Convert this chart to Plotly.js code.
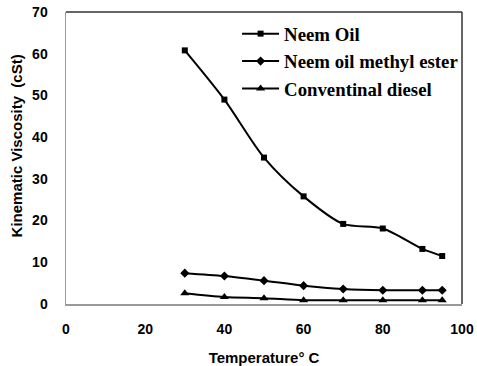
<!DOCTYPE html>
<html>
<head>
<meta charset="utf-8">
<script src="https://cdn.plot.ly/plotly-3.0.1.min.js"></script>
<style>html,body{margin:0;padding:0;background:#fff;}#chart{width:477px;height:366px;}</style>
</head>
<body>
<div id="chart"></div>
<script>
const temperature = [30, 40, 50, 60, 70, 80, 90, 95];
const neemOil = [60.8, 49.0, 35.1, 25.8, 19.2, 18.1, 13.2, 11.5];
const neemOilMethylEster = [7.4, 6.7, 5.6, 4.4, 3.6, 3.3, 3.3, 3.3];
const conventionalDiesel = [2.6, 1.7, 1.4, 0.9, 0.9, 0.9, 0.9, 0.9];
const seriesNames = ["Neem Oil", "Neem oil methyl ester", "Conventinal diesel"];
const xTicks = [0, 20, 40, 60, 80, 100];
const yTicks = [0, 10, 20, 30, 40, 50, 60, 70];
const xTitle = 'Temperature° C';
const yTitle = 'Kinematic Viscosity  (cSt)';

const lineStyle = {color: '#000', width: 2, shape: 'spline', smoothing: 0.8};
const traces = [
  {x: temperature, y: neemOil, name: seriesNames[0], mode: 'lines+markers', line: lineStyle,
   marker: {symbol: 'square', size: 6, color: '#000'}, legendgroup: 'a'},
  {x: temperature, y: neemOilMethylEster, name: seriesNames[1], mode: 'lines+markers', line: lineStyle,
   marker: {symbol: 'diamond', size: 7, color: '#000'}, legendgroup: 'b'},
  {x: temperature, y: conventionalDiesel, name: seriesNames[2], mode: 'lines+markers', line: lineStyle,
   marker: {symbol: 'triangle-up', size: 8, color: '#000'}, legendgroup: 'c'}
];

const tickFont = {family: 'Liberation Sans, Arial, sans-serif', size: 14, color: '#000', weight: 'bold'};
const titleFont = {family: 'Liberation Sans, Arial, sans-serif', size: 15, color: '#000', weight: 'bold'};
const layout = {
  width: 477, height: 366,
  margin: {l: 66, r: 15, t: 12, b: 62},
  paper_bgcolor: '#fff', plot_bgcolor: '#fff',
  showlegend: true,
  legend: {
    x: 0.432, y: 0.99, xanchor: 'left', yanchor: 'top',
    font: {family: 'Liberation Serif, Times New Roman, serif', size: 18.8, color: '#000', weight: 'bold'},
    bgcolor: 'rgba(0,0,0,0)', traceorder: 'grouped', tracegroupgap: 0, itemwidth: 37
  },
  xaxis: {
    range: [0, 100], tickvals: xTicks, ticktext: xTicks.map(String),
    showgrid: false, zeroline: false, showline: true, linecolor: '#999', linewidth: 1.5,
    ticks: 'outside', ticklen: 12, tickcolor: 'rgba(0,0,0,0)',
    tickfont: tickFont,
    title: {text: xTitle, font: titleFont, standoff: 16}
  },
  yaxis: {
    range: [0, 70], tickvals: yTicks, ticktext: yTicks.map(String),
    showgrid: false, zeroline: false, showline: true, linecolor: '#999', linewidth: 1.5,
    ticks: 'outside', ticklen: 14, tickcolor: 'rgba(0,0,0,0)',
    tickfont: tickFont
  },
  annotations: [
    {text: yTitle, xref: 'paper', yref: 'paper', x: -0.126, y: 0.54, xanchor: 'center', yanchor: 'middle',
     textangle: -90, showarrow: false, font: titleFont}
  ],
  shapes: [
    {type: 'line', xref: 'paper', yref: 'paper', x0: 0, x1: 1, y0: 1, y1: 1, line: {color: '#333', width: 1.5}},
    {type: 'line', xref: 'paper', yref: 'paper', x0: 1, x1: 1, y0: 0, y1: 1, line: {color: '#333', width: 1.5}}
  ]
};
Plotly.newPlot('chart', traces, layout, {displayModeBar: false, staticPlot: true});
</script>
</body>
</html>
